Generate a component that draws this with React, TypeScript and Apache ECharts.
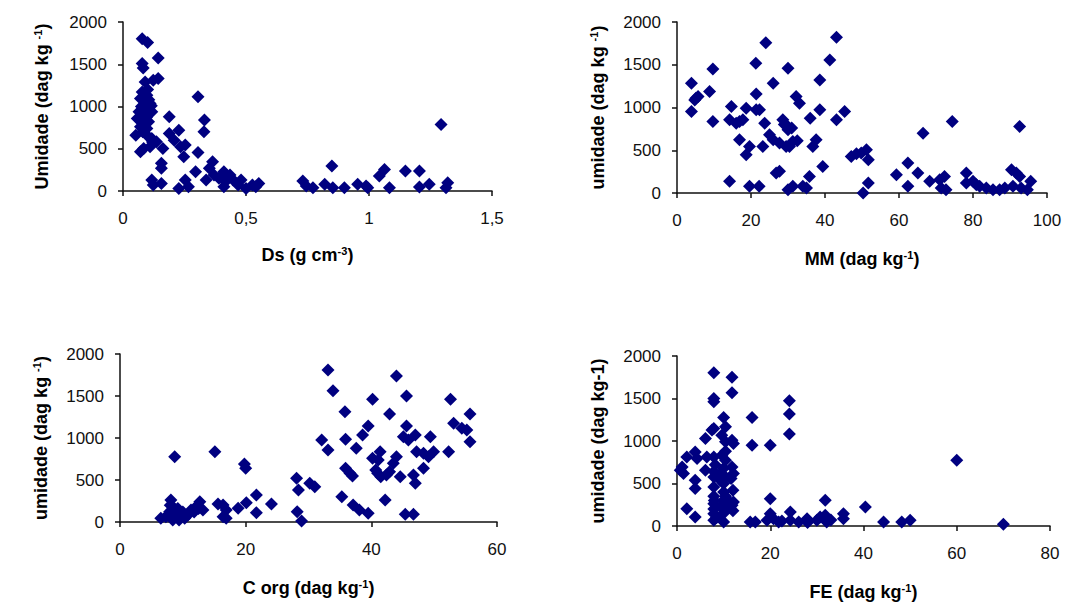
import React, { useEffect, useRef } from "react";
import * as echarts from "echarts";

// Ds (g cm-3) vs umidade (dag kg-1)
const dsData: number[][] = [
  [0.078, 1803], [0.1, 1756], [0.143, 1575], [0.078, 1508], [0.082, 1457],
  [0.143, 1331], [0.123, 1311], [0.09, 1290], [0.078, 1173], [0.071, 1094],
  [0.097, 1134], [0.084, 1016], [0.11, 1035], [0.065, 937], [0.09, 898],
  [0.117, 937], [0.078, 819], [0.104, 819], [0.071, 760], [0.097, 740],
  [0.084, 957], [0.104, 976], [0.058, 858], [0.09, 1060], [0.1, 1200],
  [0.075, 1000], [0.095, 870], [0.052, 661], [0.188, 878], [0.227, 720],
  [0.117, 622], [0.136, 583], [0.188, 681], [0.208, 602], [0.234, 524],
  [0.253, 543], [0.084, 504], [0.071, 465], [0.11, 524], [0.162, 504],
  [0.247, 405], [0.305, 1114], [0.331, 839], [0.329, 700], [0.305, 457],
  [0.156, 327], [0.156, 268], [0.117, 130], [0.156, 90], [0.123, 71],
  [0.227, 31], [0.253, 130], [0.266, 51], [0.295, 228], [0.338, 130],
  [0.364, 346], [0.351, 268], [0.37, 189], [0.41, 228], [0.435, 189],
  [0.416, 110], [0.448, 130], [0.41, 51], [0.468, 71], [0.48, 130],
  [0.526, 71], [0.552, 90], [0.5, 31], [0.54, 50], [0.39, 150],
  [0.849, 295], [0.731, 118], [0.745, 59], [0.772, 39], [0.82, 79],
  [0.853, 39], [0.9, 39], [0.954, 79], [0.988, 59], [0.995, 39],
  [1.042, 177], [1.063, 255], [1.083, 39], [1.148, 236], [1.205, 236],
  [1.205, 47], [1.245, 79], [1.293, 786], [1.32, 98], [1.313, 39],
  [0.085, 1100], [0.105, 1080], [0.095, 940], [0.115, 1010], [0.08, 700],
  [0.1, 650], [0.12, 580]
];

// MM (dag kg-1) vs umidade (dag kg-1)
const mmData: number[][] = [
  [3.9, 1284], [3.9, 953], [4.8, 1089], [5.1, 1109], [5.7, 1128],
  [8.8, 1187], [9.7, 1451], [9.7, 837], [14.2, 136], [14.7, 1012],
  [14.2, 856], [16, 817], [16.9, 837], [17.8, 856], [16.9, 623],
  [18.7, 992], [18.7, 447], [19.6, 545], [19.6, 78], [22.2, 78],
  [21.3, 1518], [21.4, 1159], [21.4, 973], [22.3, 973], [23.2, 545],
  [24, 1758], [23.7, 817], [25, 681], [26, 623], [26, 1284],
  [26.8, 233], [27.7, 253], [30, 1459], [28.6, 856], [29.5, 798],
  [30, 740], [27.7, 584], [29.5, 545], [30.4, 545], [31.3, 603],
  [32.2, 1128], [33.1, 1050], [36, 875], [38.6, 1323], [38.6, 973],
  [30, 39], [31.3, 78], [34, 78], [35, 58], [35.8, 194],
  [36.7, 545], [37.6, 623], [39.4, 311], [41.3, 1557], [43.1, 1821],
  [43.1, 856], [45.3, 953], [47.1, 428], [48.5, 459], [49.8, 467],
  [51.2, 506], [51.7, 389], [50.3, 0], [51.7, 117], [59.3, 214],
  [62.4, 350], [62.4, 78], [65.1, 233], [66.5, 700], [68.3, 136],
  [71, 155], [72.3, 194], [71.4, 58], [72.7, 39], [74.4, 837],
  [78.2, 233], [78.2, 117], [80, 136], [80.9, 97], [81.8, 78],
  [83.6, 58], [85.4, 39], [87.2, 39], [88.6, 58], [90.4, 272],
  [91.7, 233], [92.6, 194], [90.8, 78], [93, 58], [92.6, 778],
  [95.6, 136], [94.7, 39], [29, 800], [31, 760], [32.5, 610]
];

// C org (dag kg-1) vs umidade (dag kg-1)
const corgData: number[][] = [
  [8.7, 778], [15.1, 837], [19.8, 690], [20, 639], [33.1, 1810],
  [33.9, 1563], [44, 1738], [45.6, 1500], [52.6, 1460], [40.2, 1460],
  [35.8, 1313], [42.9, 1286], [55.7, 1286], [39.5, 1143], [45.6, 1143],
  [53.1, 1175], [54.4, 1115], [55.2, 1095], [55.7, 956], [32.1, 976],
  [33.1, 857], [35.9, 984], [38.6, 1036], [37.6, 877], [45.1, 1016],
  [45.9, 976], [47, 1036], [49.4, 1016], [47.2, 837], [48.3, 817],
  [49.1, 778], [49.9, 837], [52.3, 837], [41.4, 837], [40.2, 758],
  [41.1, 738], [44, 778], [43.5, 698], [35.9, 639], [36.6, 579],
  [37, 547], [40.7, 619], [41.5, 540], [42.9, 599], [42.4, 560],
  [41, 579], [44.6, 540], [46.7, 560], [47, 460], [48.3, 639],
  [35.3, 302], [37.1, 202], [38.1, 143], [39.5, 103], [42.2, 262],
  [45.4, 91], [46.7, 91], [28.1, 520], [28.4, 381], [28.2, 123],
  [28.9, 12], [30.2, 460], [31, 421], [20.1, 230], [21.7, 321],
  [21.7, 111], [24.1, 214], [15.6, 214], [16.4, 202], [16.9, 143],
  [18.8, 163], [16.4, 63], [16.9, 44], [6.5, 44], [7.3, 63],
  [8.1, 262], [8.4, 183], [7.9, 123], [8.7, 63], [8.9, 143],
  [9.7, 103], [10.3, 44], [10.8, 83], [11.3, 143], [12.1, 183],
  [12.7, 242], [13.2, 143], [8.4, 24], [9.4, 24], [8, 200],
  [9.2, 160], [10, 120], [11.8, 120], [12.5, 160]
];

// FE (dag kg-1) vs umidade (dag kg-1)
const feData: number[][] = [
  [7.9, 1804], [11.8, 1749], [11.8, 1568], [7.9, 1501], [7.9, 1462],
  [24.1, 1474], [24.1, 1317], [24.1, 1081], [16.1, 1277], [16.1, 951],
  [20, 951], [7.9, 1148], [7.5, 1128], [10, 1277], [10.4, 1167],
  [6.1, 1030], [9.6, 1069], [10.4, 990], [11.8, 1010], [12.1, 971],
  [3.9, 872], [2.1, 813], [4.3, 793], [7.9, 813], [9.6, 833],
  [10.4, 774], [6.4, 813], [0.7, 656], [1.4, 617], [1.1, 695],
  [6.1, 656], [7.9, 577], [7.9, 460], [9.3, 538], [9.3, 617],
  [11.8, 695], [12.1, 617], [3.9, 538], [3.9, 440], [10.4, 577],
  [10, 401], [2.1, 204], [3.9, 106], [7.9, 263], [7.9, 145],
  [9.3, 224], [10, 302], [10.7, 224], [11.8, 243], [12.1, 283],
  [10, 47], [7.9, 67], [7.9, 350], [7.9, 200], [10, 150],
  [10, 500], [10.4, 880], [12, 180], [11, 300], [8.5, 100],
  [20, 322], [31.8, 302], [40.4, 224], [60, 774], [70, 20],
  [15.7, 47], [16.8, 47], [19.3, 67], [20, 145], [20.7, 86],
  [21.8, 47], [24.3, 165], [24.3, 67], [26.1, 47], [27.9, 86],
  [30, 67], [30.7, 106], [31.8, 126], [32.1, 47], [35.7, 145],
  [35.7, 86], [44.3, 47], [48.2, 47], [50, 67], [28, 40],
  [33, 70], [22.5, 60], [8.2, 720], [7.9, 640], [10, 680],
  [11.6, 560], [12, 420], [10.4, 350], [8, 300]
];

const FONT = '"Liberation Sans", Arial, Helvetica, sans-serif';
const NAVY = "#000080";
const AXIS = "#111111";

const commaFmt = (v: number) => String(v).replace(".", ",");
const plainFmt = (v: number) => String(v);

const nameStyle = {
  fontFamily: FONT,
  fontSize: 18,
  fontWeight: "bold" as const,
  color: "#000",
  lineHeight: 20,
  rich: {
    sup: {
      fontFamily: FONT,
      fontSize: 11,
      fontWeight: "bold" as const,
      color: "#000",
      lineHeight: 20,
      verticalAlign: "top" as const,
    },
  },
};

function xAxisCfg(idx: number, max: number, interval: number, name: string, gap: number, fmt: (v: number) => string) {
  return {
    type: "value",
    gridIndex: idx,
    min: 0,
    max,
    interval,
    name,
    nameLocation: "middle",
    nameGap: gap,
    nameTextStyle: nameStyle,
    axisLine: { show: true, onZero: false, lineStyle: { color: AXIS, width: 1.5 } },
    axisTick: { show: true, inside: false, length: 5, lineStyle: { color: AXIS, width: 1.5 } },
    axisLabel: { fontFamily: FONT, fontSize: 17, color: "#111", margin: 19, formatter: fmt },
    splitLine: { show: false },
  };
}

function yAxisCfg(idx: number, name: string, gap: number) {
  return {
    type: "value",
    gridIndex: idx,
    min: 0,
    max: 2000,
    interval: 500,
    name,
    nameLocation: "middle",
    nameGap: gap,
    nameTextStyle: nameStyle,
    axisLine: { show: true, lineStyle: { color: AXIS, width: 1.5 } },
    axisTick: { show: true, inside: false, length: 5, lineStyle: { color: AXIS, width: 1.5 } },
    axisLabel: { fontFamily: FONT, fontSize: 17, color: "#111", margin: 16, formatter: plainFmt },
    splitLine: { show: false },
  };
}

function scatter(idx: number, data: number[][]) {
  return {
    type: "scatter",
    xAxisIndex: idx,
    yAxisIndex: idx,
    data,
    symbol: "diamond",
    symbolSize: 13,
    itemStyle: { color: NAVY, opacity: 1 },
    clip: false,
  };
}

export default function App() {
  const ref = useRef<HTMLDivElement>(null);
  useEffect(() => {
    if (!ref.current) return;
    const chart = echarts.init(ref.current, undefined, { renderer: "svg" });
    chart.setOption({
      animation: false,
      backgroundColor: "#ffffff",
      grid: [
        { left: 123, top: 22, width: 369, height: 169 },
        { left: 677, top: 22, width: 370, height: 171 },
        { left: 120, top: 354, width: 377, height: 168 },
        { left: 677, top: 356, width: 373, height: 170 },
      ],
      xAxis: [
        xAxisCfg(0, 1.5, 0.5, "Ds (g cm{sup|-3})", 54, commaFmt),
        xAxisCfg(1, 100, 20, "MM (dag kg{sup|-1})", 56, plainFmt),
        xAxisCfg(2, 60, 20, "C org (dag kg{sup|-1})", 56, plainFmt),
        xAxisCfg(3, 80, 20, "FE (dag kg{sup|-1})", 56, plainFmt),
      ],
      yAxis: [
        yAxisCfg(0, "Umidade (dag kg {sup|-1})", 71),
        yAxisCfg(1, "umidade (dag kg {sup|-1})", 69),
        yAxisCfg(2, "umidade (dag kg {sup|-1})", 69),
        yAxisCfg(3, "umidade (dag kg-1)", 69),
      ],
      series: [
        scatter(0, dsData),
        scatter(1, mmData),
        scatter(2, corgData),
        scatter(3, feData),
      ],
    });
    return () => chart.dispose();
  }, []);
  return (
    <div
      ref={ref}
      style={{ position: "fixed", left: 0, top: 0, width: 1078, height: 615, background: "#fff" }}
    />
  );
}
